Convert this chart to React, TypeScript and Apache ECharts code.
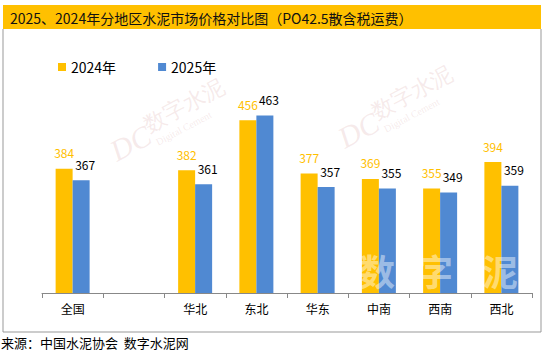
import React, { useEffect, useRef } from "react";
import * as echarts from "echarts";

const categories = ["全国", "", "华北", "东北", "华东", "中南", "西南", "西北"];
const values2024: (number | null)[] = [384, null, 382, 456, 377, 369, 355, 394];
const values2025: (number | null)[] = [367, null, 361, 463, 357, 355, 349, 359];
const seriesNames = ["2024年", "2025年"];
const titleText = "2025、2024年分地区水泥市场价格对比图（PO42.5散含税运费）";
const sourceText = "来源：中国水泥协会  数字水泥网";

const ORANGE = "#FFC000";
const BLUE = "#5089D2";
const FONT = "'Noto Sans CJK SC', 'Noto Sans', sans-serif";

function mark(x: number, y: number) {
  const c = "rgba(214,160,160,0.22)";
  return {
    type: "group",
    x,
    y,
    rotation: (28 * Math.PI) / 180,
    silent: true,
    z: 1,
    children: [
      { type: "text", x: 0, y: -6, style: { text: "DC", font: "italic 30px serif", fill: c, textVerticalAlign: "middle" } },
      { type: "text", x: 42, y: -14, style: { text: "数字水泥", font: "22px serif", fill: c, textVerticalAlign: "middle" } },
      { type: "text", x: 44, y: 6, style: { text: "Digital Cement", font: "10px serif", fill: c, textVerticalAlign: "middle" } },
    ],
  };
}

export default function App() {
  const ref = useRef<HTMLDivElement>(null);
  useEffect(() => {
    if (!ref.current) return;
    const chart = echarts.init(ref.current, undefined, { renderer: "svg" });
    chart.setOption({
      animation: false,
      backgroundColor: "#fff",
      grid: { left: 42, right: 15, top: 90.5, bottom: 58 },
      legend: {
        data: seriesNames,
        left: 53,
        top: 55,
        itemWidth: 8,
        itemHeight: 8,
        itemGap: 42,
        icon: "rect",
        textStyle: { fontSize: 14, color: "#000", fontFamily: FONT },
      },
      xAxis: {
        type: "category",
        data: categories,
        axisLine: { lineStyle: { color: "#888", width: 1 } },
        axisTick: { show: true, alignWithLabel: false, length: 5, lineStyle: { color: "#888" } },
        axisLabel: { fontSize: 12, color: "#000", margin: 9, fontFamily: FONT },
      },
      yAxis: {
        type: "value",
        min: 200,
        max: 500,
        show: false,
        splitLine: { show: false },
      },
      series: [
        {
          name: seriesNames[0],
          type: "bar",
          data: values2024,
          barWidth: 17,
          barGap: "0%",
          itemStyle: { color: ORANGE },
          label: { show: true, position: "top", distance: 10, fontSize: 12, color: ORANGE, fontFamily: FONT },
        },
        {
          name: seriesNames[1],
          type: "bar",
          data: values2025,
          barWidth: 17,
          itemStyle: { color: BLUE },
          label: { show: true, position: "top", distance: 10, offset: [4, 0], fontSize: 12, color: "#000", fontFamily: FONT },
        },
      ],
      graphic: [
        { type: "rect", shape: { x: 3, y: 5, width: 538, height: 24 }, style: { fill: ORANGE }, z: 0 },
        {
          type: "polyline",
          shape: { points: [[3, 29], [3, 332], [541, 332], [541, 29]] },
          style: { stroke: "#999", lineWidth: 1, fill: "none" },
          z: 0,
        },
        {
          type: "text",
          x: 10,
          y: 18,
          style: { text: titleText, font: `14px ${FONT}`, fill: "#111", textVerticalAlign: "middle" },
          z: 2,
        },
        {
          type: "text",
          x: 1,
          y: 342,
          style: { text: sourceText, font: `13px ${FONT}`, fill: "#000", textVerticalAlign: "middle" },
          z: 2,
        },
        mark(115, 158),
        mark(343, 145),
        { type: "text", x: 377, y: 270, style: { text: "数", font: `bold 36px ${FONT}`, fill: "rgba(255,255,255,0.45)", textAlign: "center", textVerticalAlign: "middle" }, z: 100, silent: true },
        { type: "text", x: 435, y: 270, style: { text: "字", font: `bold 36px ${FONT}`, fill: "rgba(255,255,255,0.45)", textAlign: "center", textVerticalAlign: "middle" }, z: 100, silent: true },
        { type: "text", x: 500, y: 270, style: { text: "泥", font: `bold 36px ${FONT}`, fill: "rgba(255,255,255,0.45)", textAlign: "center", textVerticalAlign: "middle" }, z: 100, silent: true },
      ],
    });
    return () => chart.dispose();
  }, []);
  return <div ref={ref} style={{ position: "fixed", left: 0, top: 0, width: 547, height: 351 }} />;
}
